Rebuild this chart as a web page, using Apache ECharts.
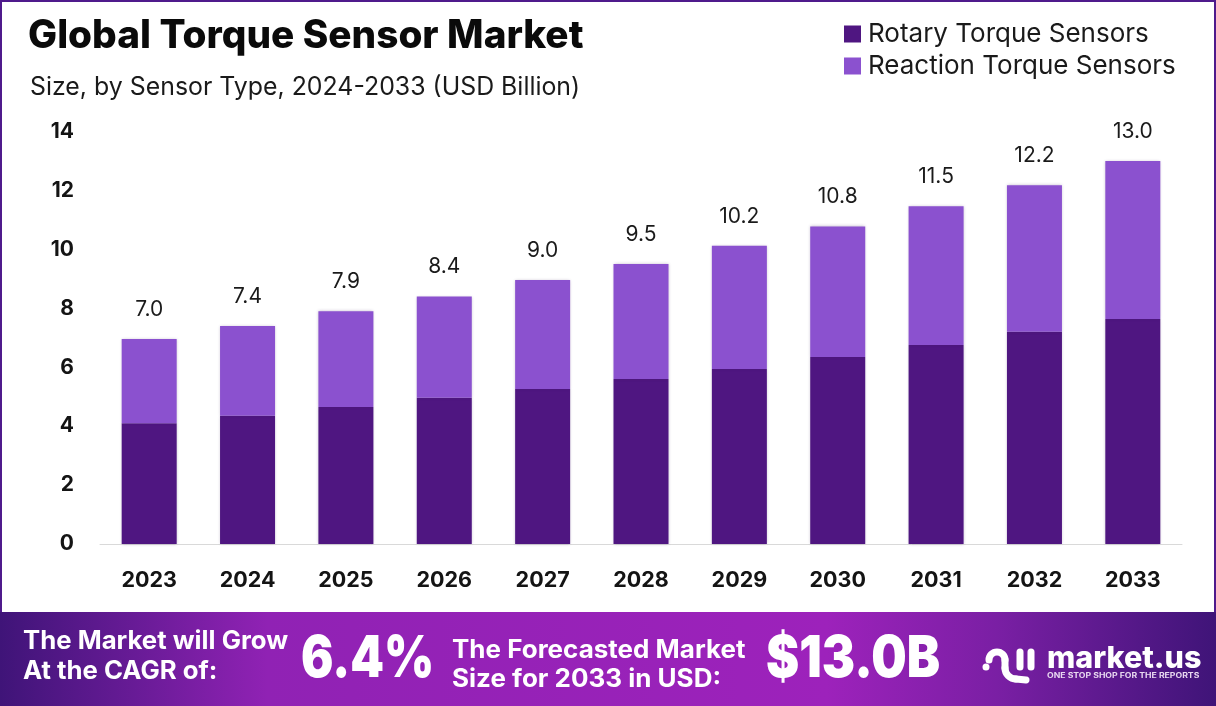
<!DOCTYPE html>
<html>
<head>
<meta charset="utf-8">
<style>
html, body { margin: 0; padding: 0; background: #fff; }
#chart { width: 1216px; height: 706px; }
</style>
<script src="https://cdn.jsdelivr.net/npm/echarts@6/dist/echarts.min.js"></script>
</head>
<body>
<div id="chart"></div>
<script>
var years = ['2023','2024','2025','2026','2027','2028','2029','2030','2031','2032','2033'];
var rotary = [4.1, 4.35, 4.65, 4.96, 5.26, 5.6, 5.94, 6.35, 6.75, 7.2, 7.64];
var reaction = [2.86, 3.05, 3.25, 3.44, 3.7, 3.9, 4.18, 4.43, 4.71, 4.98, 5.36];
var totals = ['7.0','7.4','7.9','8.4','9.0','9.5','10.2','10.8','11.5','12.2','13.0'];
var yTicks = [0, 14];

var FONT = 'Inter';
var DARK = '#4f1681';
var LIGHT = '#8b51cf';

var myChart = echarts.init(document.getElementById('chart'));

function txt(x, y, text, size, weight, color, sx, extra) {
    var style = { x: 0, y: 0, text: text, fontFamily: FONT, fontSize: size, fontWeight: weight, fill: color, verticalAlign: 'middle' };
    for (var k in extra) style[k] = extra[k];
    return { type: 'text', z: 10, x: x, y: y, scaleX: sx || 1, style: style };
}
function seg(x1, y1, x2, y2) {
    return { type: 'line', z: 10, shape: { x1: x1, y1: y1, x2: x2, y2: y2 }, style: logoStroke };
}
function arc(cx, cy, r, a, b, cw) {
    return { type: 'arc', z: 10, shape: { cx: cx, cy: cy, r: r, startAngle: a, endAngle: b, clockwise: cw }, style: logoStroke };
}

var shadow = { shadowColor: 'rgba(40,0,70,0.7)', shadowBlur: 5, shadowOffsetX: 2, shadowOffsetY: 3 };
var logoStroke = { stroke: '#fff', lineWidth: 7, lineCap: 'round', fill: null };
var barEdge = { shadowColor: 'rgba(60,30,90,0.3)', shadowBlur: 3 };

var option = {
    animation: false,
    backgroundColor: '#fff',
    textStyle: { fontFamily: FONT },
    legend: {
        orient: 'vertical',
        left: 839,
        top: 16,
        itemWidth: 17,
        itemHeight: 17,
        itemGap: 6,
        icon: 'rect',
        textStyle: { fontSize: 26, color: '#1a1a1a', padding: [0, 0, 5, 2], fontFamily: FONT },
        data: ['Rotary Torque Sensors', 'Reaction Torque Sensors']
    },
    grid: { left: 100, right: 34, top: 131.5, bottom: 162 },
    xAxis: {
        type: 'category',
        data: years,
        axisTick: { show: false },
        axisLine: { lineStyle: { color: '#d9d9d9', width: 1 } },
        axisLabel: { margin: 26, fontSize: 21.5, fontWeight: 700, color: '#141414', fontFamily: FONT }
    },
    yAxis: {
        type: 'value',
        min: yTicks[0],
        max: yTicks[1],
        interval: 2,
        splitLine: { show: false },
        axisLine: { show: false },
        axisTick: { show: false },
        axisLabel: { margin: 26, fontSize: 21, fontWeight: 700, color: '#141414', fontFamily: FONT }
    },
    series: [
        {
            name: 'Rotary Torque Sensors',
            type: 'bar',
            stack: 'total',
            barWidth: 55,
            itemStyle: Object.assign({ color: DARK }, barEdge),
            data: rotary
        },
        {
            name: 'Reaction Torque Sensors',
            type: 'bar',
            stack: 'total',
            barWidth: 55,
            itemStyle: Object.assign({ color: LIGHT }, barEdge),
            label: {
                show: true,
                position: 'top',
                distance: 19,
                fontSize: 21,
                color: '#1a1a1a',
                fontFamily: FONT,
                formatter: function (p) { return totals[p.dataIndex]; }
            },
            data: reaction
        }
    ],
    graphic: [
        // frame
        { type: 'rect', z: 5, shape: { x: 0, y: 0, width: 1216, height: 2 }, style: { fill: '#4f1a8c' } },
        { type: 'rect', z: 5, shape: { x: 0, y: 0, width: 2, height: 612 }, style: { fill: '#4f1a8c' } },
        { type: 'rect', z: 5, shape: { x: 1214, y: 0, width: 2, height: 612 }, style: { fill: '#4f1a8c' } },
        // title
        txt(28, 36, 'Global Torque Sensor Market', 39, 800, '#0a0a0a', 0.993),
        txt(30, 87, 'Size, by Sensor Type, 2024-2033 (USD Billion)', 25, 400, '#1a1a1a', 0.995),
        // banner
        {
            type: 'rect', z: 6,
            shape: { x: 0, y: 612, width: 1216, height: 94 },
            style: {
                fill: new echarts.graphic.LinearGradient(0, 0, 1, 0, [
                    { offset: 0, color: '#3f1478' },
                    { offset: 0.22, color: '#9022b4' },
                    { offset: 0.68, color: '#9d22bb' },
                    { offset: 0.82, color: '#7a1fa4' },
                    { offset: 1, color: '#3f1478' }
                ])
            }
        },
        txt(23, 641, 'The Market will Grow', 25, 700, '#fff', 1.03),
        txt(23, 671, 'At the CAGR of:', 25, 700, '#fff', 1.03),
        txt(301, 660, '6.4%', 58, 900, '#fff', 0.83, shadow),
        txt(452, 650, 'The Forecasted Market', 25, 700, '#fff', 1.04),
        txt(452, 679, 'Size for 2033 in USD:', 25, 700, '#fff', 1.04),
        txt(766, 660, '$13.0B', 58, 900, '#fff', 0.86, shadow),
        // logo
        arc(997, 660, 8, Math.PI, 0, true),
        seg(1005, 660, 1005, 668),
        arc(1016, 668, 11, Math.PI, Math.PI / 2, false),
        seg(1016, 679, 1026, 680),
        seg(1020, 652, 1020, 667),
        seg(1031, 652, 1031, 667),
        { type: 'circle', z: 10, shape: { cx: 986, cy: 667, r: 3.5 }, style: { fill: '#fff' } },
        txt(1047, 659, 'market.us', 30.5, 800, '#fff', 1),
        txt(1047, 676, 'ONE STOP SHOP FOR THE REPORTS', 7, 700, '#e8d8f0', 1.24)
    ]
};
myChart.setOption(option);
</script>
</body>
</html>
